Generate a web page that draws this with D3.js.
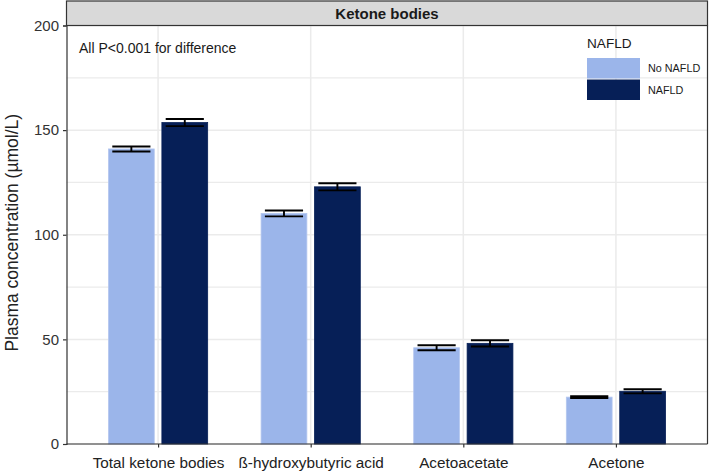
<!DOCTYPE html>
<html><head><meta charset="utf-8">
<script src="https://cdn.jsdelivr.net/npm/d3@7"></script>
<style>body{margin:0;background:#fff}svg{display:block;font-family:"Liberation Sans",Arial,sans-serif}</style>
</head><body><svg id="c" width="709" height="474"></svg>
<script>
const categories = ["Total ketone bodies", "ß-hydroxybutyric acid", "Acetoacetate", "Acetone"];
const groups = ["No NAFLD", "NAFLD"];
const noNafld = [141.0, 110.2, 46.0, 22.4];
const noNafldErr = [1.2, 1.4, 1.2, 0.45];
const nafld = [153.6, 122.9, 48.1, 25.2];
const nafldErr = [1.7, 1.7, 1.5, 1.0];
const yTicks = [0, 50, 100, 150, 200];
const yMinor = [25, 75, 125, 175];
const colors = ["#9bb5ea", "#061f57"];

const svg = d3.select("#c");
const L = 66.5, R = 707.5, T = 25.5, B = 444;
// ggplot discrete expansion 0.6 units
const unit = (R - L) / 4.2;
const xPos = d3.scaleOrdinal().domain(categories).range(categories.map((c, i) => L + (0.6 + i) * unit));
const cx = c => xPos(c);
const y = d3.scaleLinear().domain([0, 200]).range([B, T]);

const data = [];
categories.forEach((c, i) => {
  data.push({c, g: 0, v: noNafld[i], e: noNafldErr[i]});
  data.push({c, g: 1, v: nafld[i], e: nafldErr[i]});
});

// grid
const grid = svg.append("g");
yMinor.forEach(t => grid.append("line").attr("x1", L).attr("x2", R).attr("y1", y(t)).attr("y2", y(t)).attr("stroke", "#ebebeb").attr("stroke-width", 1.2));
yTicks.forEach(t => grid.append("line").attr("x1", L).attr("x2", R).attr("y1", y(t)).attr("y2", y(t)).attr("stroke", "#ebebeb").attr("stroke-width", 1.5));
categories.forEach(c => grid.append("line").attr("x1", cx(c)).attr("x2", cx(c)).attr("y1", T).attr("y2", B).attr("stroke", "#ebebeb").attr("stroke-width", 1.5));

const bw = 0.3 * unit, off = 0.175 * unit, ew = 0.25 * unit;
const bx = d => cx(d.c) + (d.g === 0 ? -off : off);
svg.append("g").selectAll("rect").data(data).join("rect")
  .attr("x", d => bx(d) - bw / 2).attr("width", bw)
  .attr("y", d => y(d.v)).attr("height", d => y(0) - y(d.v))
  .attr("fill", d => colors[d.g])
  .attr("stroke", d => d.g === 0 ? "#b3c6ef" : colors[1]).attr("stroke-width", 0.8);

const eb = svg.append("g").attr("stroke", "#000").attr("stroke-width", 1.9);
data.forEach(d => {
  const xc = bx(d);
  eb.append("line").attr("x1", xc).attr("x2", xc).attr("y1", y(d.v + d.e)).attr("y2", y(d.v - d.e));
  eb.append("line").attr("x1", xc - ew / 2).attr("x2", xc + ew / 2).attr("y1", y(d.v + d.e)).attr("y2", y(d.v + d.e));
  eb.append("line").attr("x1", xc - ew / 2).attr("x2", xc + ew / 2).attr("y1", y(d.v - d.e)).attr("y2", y(d.v - d.e));
});

// panel border (right), axes
svg.append("line").attr("x1", R).attr("x2", R).attr("y1", T).attr("y2", B).attr("stroke", "#333").attr("stroke-width", 1.2);
const yAx = svg.append("g").attr("transform", `translate(${L},0)`)
  .call(d3.axisLeft(y).tickValues(yTicks).tickSize(3.5).tickPadding(4));
yAx.select(".domain").attr("stroke", "#333").attr("stroke-width", 1.2);
yAx.selectAll(".tick line").attr("stroke", "#333").attr("stroke-width", 1.2);
yAx.selectAll("text").attr("font-size", 15).attr("fill", "#333").attr("font-family", "Liberation Sans, Arial, sans-serif");

const xAx = svg.append("g").attr("transform", `translate(0,${B})`)
  .call(d3.axisBottom(xPos).tickSize(3.5).tickPadding(10));
xAx.select(".domain").attr("d", `M${L},0H${R}`).attr("stroke", "#333").attr("stroke-width", 1.2);
xAx.selectAll(".tick line").attr("stroke", "#333").attr("stroke-width", 1.2);
xAx.selectAll("text").attr("font-size", 15.3).attr("fill", "#222").attr("font-family", "Liberation Sans, Arial, sans-serif");

// strip
svg.append("rect").attr("x", L).attr("y", 1).attr("width", R - L).attr("height", T - 1)
  .attr("fill", "#d9d9d9").attr("stroke", "#333").attr("stroke-width", 1.2);
svg.append("text").attr("x", (L + R) / 2).attr("y", 18.5).attr("text-anchor", "middle")
  .attr("font-size", 15).attr("font-weight", "bold").attr("fill", "#1a1a1a").text("Ketone bodies");

// y title
svg.append("text").attr("transform", `translate(18,${(T + B) / 2 - 2}) rotate(-90)`).attr("text-anchor", "middle")
  .attr("font-size", 17.5).attr("fill", "#222").text("Plasma concentration (µmol/L)");

// annotation
svg.append("text").attr("x", 79).attr("y", 53).attr("font-size", 14).attr("fill", "#1a1a1a").text("All P<0.001 for difference");

// legend
const lg = svg.append("g");
lg.append("text").attr("x", 587).attr("y", 48).attr("font-size", 13.6).attr("fill", "#1a1a1a").text("NAFLD");
groups.forEach((g, i) => {
  lg.append("rect").attr("x", 587).attr("y", 58 + i * 21.5).attr("width", 53).attr("height", 20.5).attr("fill", colors[i]);
  lg.append("text").attr("x", 648).attr("y", 72 + i * 21.5).attr("font-size", 10.8).attr("fill", "#1a1a1a").text(g);
});
</script></body></html>
